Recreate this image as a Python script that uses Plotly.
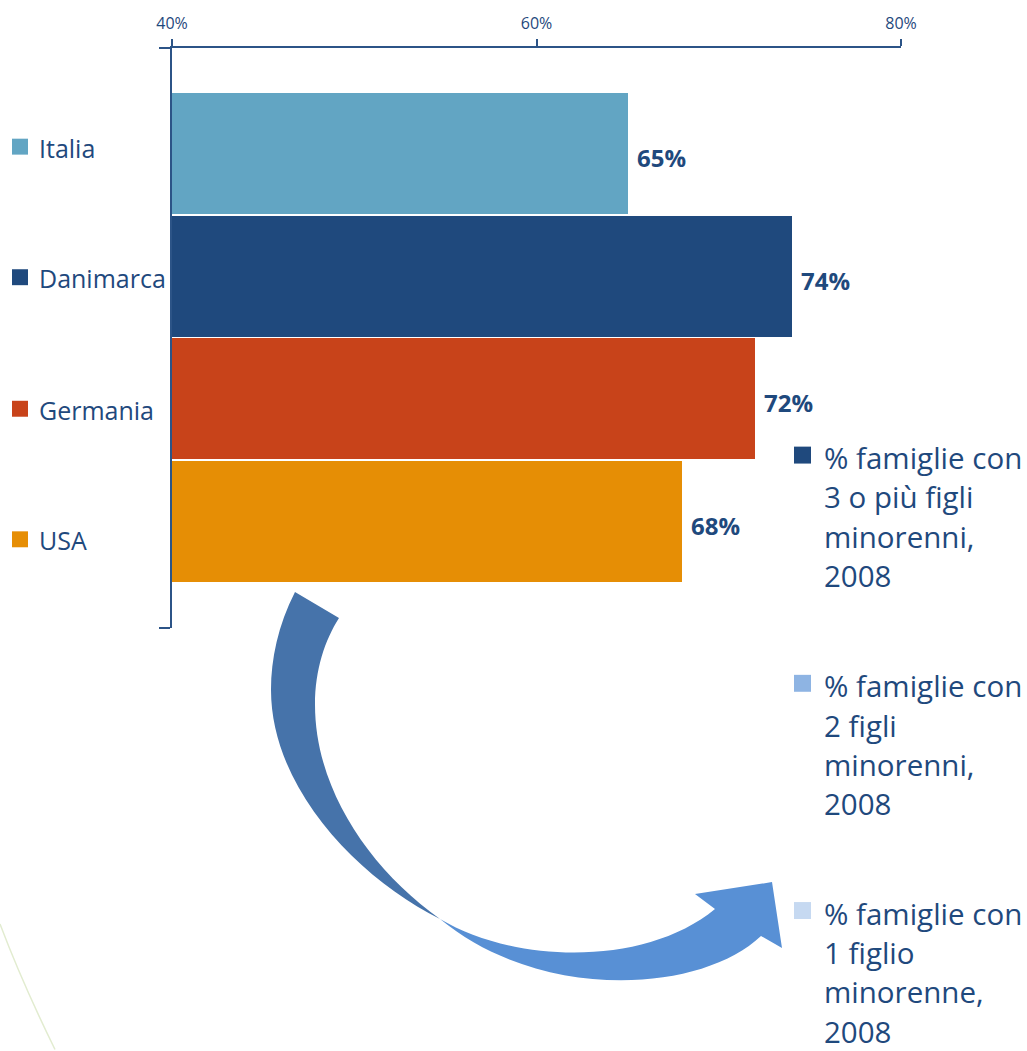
import plotly.graph_objects as go

# ---- data ----
countries = ["Italia", "Danimarca", "Germania", "USA"]
values = [65, 74, 72, 68]
bar_colors = ["#62A5C3", "#1F497D", "#C8431A", "#E68E05"]

x_ticks = [40, 60, 80]
x_tick_labels = ["40%", "60%", "80%"]

series_labels = [
    ["% famiglie con", "3 o più figli", "minorenni,", "2008"],
    ["% famiglie con", "2 figli", "minorenni,", "2008"],
    ["% famiglie con", "1 figlio", "minorenne,", "2008"],
]
series_colors = ["#1F497D", "#8EB4E3", "#C6D9F1"]

# ---- layout geometry (figure pixels) ----
W, H = 1027, 1051
L, R, T, B = 172, 901, 46, 628
TXT = "#1F497D"
AX = "#2C5487"
FONT = "Open Sans"


def px(x):
    return (x - L) / (R - L)


def py(y):
    return (B - y) / (B - T)


def pt(p):
    return f"{px(p[0]):.5f},{py(p[1]):.5f}"


def cubic(c1, c2, p):
    return f"C {pt(c1)} {pt(c2)} {pt(p)}"


fig = go.Figure()

fig.add_trace(go.Bar(
    y=list(range(len(countries))),
    x=[v - 40 for v in values],
    base=40,
    orientation="h",
    width=0.985,
    marker=dict(color=bar_colors, line=dict(width=0)),
    hoverinfo="skip",
    showlegend=False,
))

# value labels at the bar ends
annotations = []
for i, v in enumerate(values):
    annotations.append(dict(
        x=v, y=i, xref="x", yref="y", text=f"<b>{v}%</b>",
        showarrow=False, xanchor="left", yanchor="middle",
        xshift=7, yshift=-4,
        font=dict(family=FONT, size=24, color=TXT),
    ))

shapes = []

# left legend: countries
left_y = [145, 276, 408, 539]
for name, col, yc in zip(countries, bar_colors, left_y):
    shapes.append(dict(
        type="rect", xref="paper", yref="paper",
        x0=px(12), x1=px(28), y0=py(yc + 8), y1=py(yc - 8),
        fillcolor=col, line=dict(width=0),
    ))
    annotations.append(dict(
        x=px(37), y=py(yc + 1), xref="paper", yref="paper", text=name,
        showarrow=False, xanchor="left", yanchor="middle",
        font=dict(family=FONT, size=25, color=TXT),
    ))

# right legend: household series
right_top = [457, 686, 914]
line_gap = 39.5
for lines, col, y0 in zip(series_labels, series_colors, right_top):
    shapes.append(dict(
        type="rect", xref="paper", yref="paper",
        x0=px(794), x1=px(811), y0=py(y0 + 6), y1=py(y0 - 11),
        fillcolor=col, line=dict(width=0),
    ))
    for k, line in enumerate(lines):
        annotations.append(dict(
            x=px(822), y=py(y0 + k * line_gap), xref="paper", yref="paper",
            text=line, showarrow=False, xanchor="left", yanchor="middle",
            font=dict(family=FONT, size=29.5, color=TXT),
        ))

# curved arrow: darker upper ribbon, narrowing to a point
path_dark = " ".join([
    f"M {pt((295, 592))}",
    cubic((278, 625), (271, 660), (271, 690)),
    cubic((271, 790), (360, 880), (440, 920)),
    cubic((370, 870), (315, 790), (315, 705)),
    cubic((315, 670), (325, 640), (339, 618)),
    "Z",
])
shapes.append(dict(type="path", xref="paper", yref="paper", path=path_dark,
                   fillcolor="#4673AA", line=dict(width=0), layer="above"))

# curved arrow: lighter lower ribbon with the head
path_light = " ".join([
    f"M {pt((440, 920))}",
    cubic((515, 965), (645, 968), (715, 910)),
    f"L {pt((695, 895))}",
    f"L {pt((772, 883))}",
    f"L {pt((782, 949))}",
    f"L {pt((761, 937))}",
    cubic((700, 995), (540, 1003), (440, 920)),
    "Z",
])
shapes.append(dict(type="path", xref="paper", yref="paper", path=path_light,
                   fillcolor="#5890D5", line=dict(width=0), layer="above"))

# faint decorative arc in the lower-left corner
path_arc = f"M {pt((0, 925))} " + cubic((15, 965), (35, 1010), (55, 1051))
shapes.append(dict(type="path", xref="paper", yref="paper", path=path_arc,
                   line=dict(color="#E2ECD0", width=1.5)))

n = len(countries)
slot = (583 - 90) / n
y_top = -0.5 - (90 - T) / slot
y_bot = y_top + (B - T) / slot

fig.update_layout(
    width=W, height=H,
    margin=dict(l=L, r=W - R, t=T, b=H - B, pad=0),
    paper_bgcolor="white", plot_bgcolor="white",
    showlegend=False,
    bargap=0,
    font=dict(family=FONT, color=TXT),
    xaxis=dict(
        side="top", range=[40, 80], tickvals=x_ticks, ticktext=x_tick_labels,
        showgrid=False, zeroline=False, showline=True, linecolor=AX, linewidth=1.5,
        ticks="outside", ticklen=7, tickwidth=1.5, tickcolor=AX,
        ticklabelstandoff=4,
        tickfont=dict(family="Liberation Sans Narrow, Open Sans", size=16, color=TXT),
        fixedrange=True,
    ),
    yaxis=dict(
        range=[y_bot, y_top], tickvals=[y_top + 0.003, y_bot - 0.003],
        ticktext=["", ""], showgrid=False, zeroline=False,
        showline=True, linecolor=AX, linewidth=1.5,
        ticks="outside", ticklen=11, tickwidth=1.5, tickcolor=AX,
        showticklabels=True, fixedrange=True,
    ),
    shapes=shapes,
    annotations=annotations,
)

fig.write_html("out.html")
